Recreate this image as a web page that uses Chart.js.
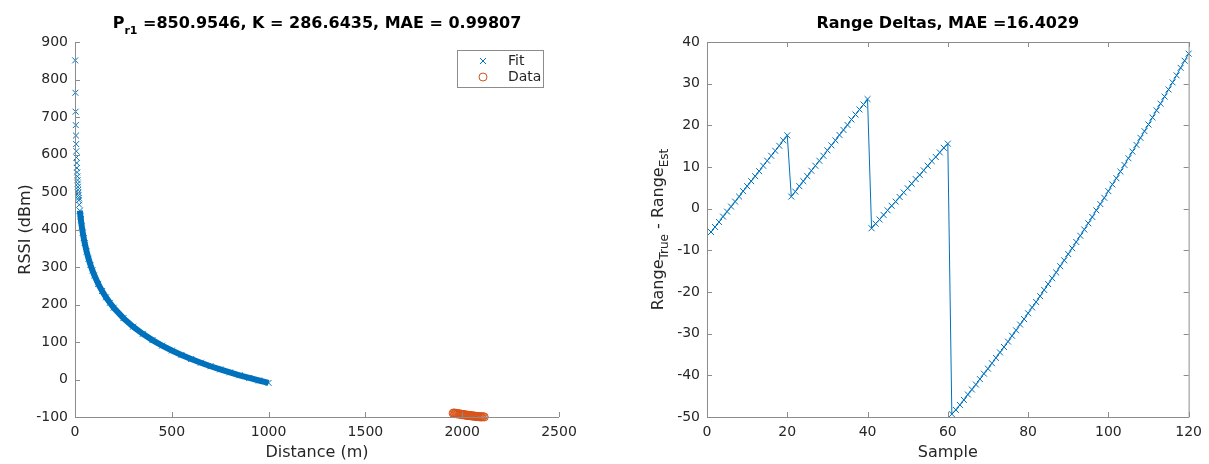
<!DOCTYPE html>
<html>
<head>
<meta charset="utf-8">
<script src="https://cdn.jsdelivr.net/npm/chart.js@4.4.1/dist/chart.umd.min.js"></script>
<style>
html, body { margin: 0; padding: 0; background: #fff; }
#wrap { position: relative; width: 1209px; height: 464px; }
.box { position: absolute; top: 0; height: 464px; }
#leftBox { left: 0; width: 604px; }
#rightBox { left: 604px; width: 605px; }
</style>
</head>
<body>
<div id="wrap">
  <div class="box" id="leftBox"><canvas id="fitChart"></canvas></div>
  <div class="box" id="rightBox"><canvas id="deltaChart"></canvas></div>
</div>
<script>
// ---- left panel: path loss fit ----
const fitDist = [1, 2, 3, 4, 5, 6, 7, 8, 9, 10, 11, 12, 13, 14, 15, 16, 17, 18, 19, 20, 22, 25, 28,
  30, 35, 40, 45, 50, 60, 70, 80, 90, 100, 120, 140, 160, 180, 200, 250, 300, 350, 400, 450, 500,
  550, 600, 650, 700, 750, 800, 850, 900, 950, 1000];
const fitRssi = [851.0, 764.7, 714.2, 678.4, 650.6, 627.9, 608.7, 592.1, 577.4, 564.3, 552.4,
  541.6, 531.6, 522.4, 513.8, 505.8, 498.2, 491.1, 484.4, 478.0, 466.1, 450.2, 436.1,
  427.5, 408.4, 391.7, 377.1, 364.0, 341.3, 322.1, 305.4, 290.8, 277.7, 255.0, 235.8,
  219.2, 204.5, 191.4, 163.6, 140.9, 121.7, 105.1, 90.4, 77.3, 65.5, 54.6, 44.7, 35.4,
  26.8, 18.8, 11.3, 4.1, -2.6, -9.0];

const dataDist = [1953, 1957, 1961, 1965, 1969, 1973, 1977, 1981, 1985, 1989, 1993, 1997,
  2001, 2005, 2009, 2013, 2017, 2021, 2025, 2029, 2033, 2037, 2041, 2045, 2049, 2053,
  2057, 2061, 2065, 2069, 2073, 2077, 2081, 2085, 2089, 2093, 2097, 2102, 2108, 2114];
const dataRssi = [-90, -89, -91, -90, -90, -92, -91, -91, -92, -93, -92, -93,
  -94, -93, -94, -95, -94, -95, -96, -95, -96, -96, -97, -96, -97, -97,
  -98, -97, -98, -98, -99, -98, -99, -99, -99, -100, -99, -100, -99, -100];

const leftXTicks = [0, 500, 1000, 1500, 2000, 2500];
const leftYTicks = [-100, 0, 100, 200, 300, 400, 500, 600, 700, 800, 900];

// ---- right panel: range deltas per sample ----
const deltaValues = [
  -5.6, -4.4, -3.2, -1.9, -0.7, 0.5, 1.7, 2.9, 4.2, 5.4, 6.6, 7.8, 9.0, 10.3, 11.5, 12.7, 13.9, 15.1, 16.4, 17.6,
  2.9, 4.1, 5.4, 6.6, 7.8, 9.1, 10.3, 11.5, 12.7, 14.0, 15.2, 16.4, 17.7, 18.9, 20.1, 21.4, 22.6, 23.8, 25.0, 26.3,
  -4.7, -3.6, -2.6, -1.5, -0.4, 0.7, 1.7, 2.8, 3.9, 4.9, 6.0, 7.1, 8.1, 9.2, 10.3, 11.4, 12.4, 13.5, 14.6, 15.6,
  -49.3, -48.3, -47.1, -45.9, -44.6, -43.4, -42.2, -40.9, -39.6, -38.4, -37.1, -35.8, -34.5, -33.2, -31.9,
  -30.5, -29.2, -27.8, -26.5, -25.1, -23.7, -22.4, -21.0, -19.5, -18.1, -16.7, -15.3, -13.8, -12.4, -10.9,
  -9.5, -8.0, -6.5, -5.0, -3.5, -2.0, -0.4, 1.1, 2.6, 4.2, 5.8, 7.3, 8.9, 10.5, 12.1,
  13.7, 15.3, 17.0, 18.6, 20.2, 21.9, 23.6, 25.2, 26.9, 28.6, 30.3, 32.0, 33.8, 35.5, 37.2];
const rightXTicks = [0, 20, 40, 60, 80, 100, 120];
const rightYTicks = [-50, -40, -30, -20, -10, 0, 10, 20, 30, 40];

const BLUE = '#0072BD';
const ORANGE = '#D95319';
const AXIS = '#8c8c8c';
const INK = '#262626';
const FONT = '"DejaVu Sans", sans-serif';

Chart.defaults.font.family = FONT;
Chart.defaults.font.size = 14;
Chart.defaults.color = INK;

// text with subscripts, centred on x
function drawRich(ctx, parts, x, y) {
  let total = 0;
  parts.forEach(p => { ctx.font = p.font; p.w = ctx.measureText(p.t).width; total += p.w; });
  let cx = x - total / 2;
  ctx.textAlign = 'left';
  ctx.textBaseline = 'alphabetic';
  parts.forEach(p => { ctx.font = p.font; ctx.fillText(p.t, cx, y + (p.dy || 0)); cx += p.w; });
}

// MATLAB style axes: gray lines, inward ticks, optional box
function axesPlugin(box) {
  return {
    id: 'matlabAxes',
    afterDatasetsDraw(chart) {
      const { ctx, chartArea: a, scales } = chart;
      const L = 5;
      ctx.save();
      ctx.strokeStyle = AXIS;
      ctx.lineWidth = 1;
      ctx.beginPath();
      ctx.moveTo(a.left + 0.5, a.top);
      ctx.lineTo(a.left + 0.5, a.bottom + 0.5);
      ctx.lineTo(a.right, a.bottom + 0.5);
      if (box) {
        ctx.moveTo(a.left, a.top + 0.5);
        ctx.lineTo(a.right + 0.5, a.top + 0.5);
        ctx.lineTo(a.right + 0.5, a.bottom + 0.5);
      }
      scales.x.ticks.forEach(t => {
        const px = Math.round(scales.x.getPixelForValue(t.value)) + 0.5;
        ctx.moveTo(px, a.bottom); ctx.lineTo(px, a.bottom - L);
        if (box) { ctx.moveTo(px, a.top); ctx.lineTo(px, a.top + L); }
      });
      scales.y.ticks.forEach(t => {
        const py = Math.round(scales.y.getPixelForValue(t.value)) + 0.5;
        ctx.moveTo(a.left, py); ctx.lineTo(a.left + L, py);
        if (box) { ctx.moveTo(a.right, py); ctx.lineTo(a.right - L, py); }
      });
      ctx.stroke();
      ctx.restore();
    }
  };
}

function fixedTicks(list) {
  return function (scale) {
    scale.ticks = list.map(v => ({ value: v }));
  };
}

function baseScales(xMin, xMax, xTicks, yMin, yMax, yTicks, yWidth, xHeight) {
  return {
    x: {
      type: 'linear', min: xMin, max: xMax,
      afterBuildTicks: fixedTicks(xTicks),
      afterFit(s) { s.height = xHeight; },
      grid: { display: false, drawTicks: false },
      border: { display: false },
      ticks: { padding: 7, maxRotation: 0, autoSkip: false, callback: v => String(v) }
    },
    y: {
      type: 'linear', min: yMin, max: yMax,
      afterBuildTicks: fixedTicks(yTicks),
      afterFit(s) { s.width = yWidth; },
      grid: { display: false, drawTicks: false },
      border: { display: false },
      ticks: { padding: 7, autoSkip: false, callback: v => String(v) }
    }
  };
}

const commonOpts = {
  responsive: true,
  maintainAspectRatio: false,
  animation: false,
  events: [],
  plugins: { legend: { display: false }, tooltip: { enabled: false }, title: { display: false } }
};

// ---------------- left chart ----------------
const fitPoints = fitDist.map((d, i) => ({ x: d, y: fitRssi[i] }));
const bandPoints = fitPoints.filter(p => p.x >= 25);
const dataPoints = dataDist.map((d, i) => ({ x: d, y: dataRssi[i] }));

const leftText = {
  id: 'leftText',
  afterDraw(chart) {
    const { ctx, chartArea: a } = chart;
    ctx.save();
    ctx.fillStyle = '#000';
    const cx = (a.left + a.right) / 2;
    drawRich(ctx, [
      { t: 'P', font: 'bold 16px ' + FONT },
      { t: 'r1', font: 'bold 11px ' + FONT, dy: 6 },
      { t: ' =850.9546, K = 286.6435, MAE = 0.99807', font: 'bold 16px ' + FONT }
    ], cx, 28);
    ctx.fillStyle = INK;
    drawRich(ctx, [{ t: 'Distance (m)', font: '16px ' + FONT }], cx, 457);
    ctx.save();
    ctx.translate(30, (a.top + a.bottom) / 2);
    ctx.rotate(-Math.PI / 2);
    drawRich(ctx, [{ t: 'RSSI (dBm)', font: '16px ' + FONT }], 0, 0);
    ctx.restore();

    // legend
    const lx = 457, ly = 50, lw = 86, lh = 37;
    ctx.fillStyle = '#fff';
    ctx.fillRect(lx, ly, lw, lh);
    ctx.strokeStyle = AXIS;
    ctx.lineWidth = 1;
    ctx.strokeRect(lx + 0.5, ly + 0.5, lw, lh);
    const mx = 483, y1 = 61, y2 = 77;
    ctx.strokeStyle = BLUE;
    ctx.beginPath();
    ctx.moveTo(mx - 3, y1 - 3); ctx.lineTo(mx + 3, y1 + 3);
    ctx.moveTo(mx + 3, y1 - 3); ctx.lineTo(mx - 3, y1 + 3);
    ctx.stroke();
    ctx.strokeStyle = ORANGE;
    ctx.beginPath();
    ctx.arc(mx, y2, 4, 0, Math.PI * 2);
    ctx.stroke();
    ctx.fillStyle = INK;
    ctx.font = '14px ' + FONT;
    ctx.textAlign = 'left';
    ctx.textBaseline = 'middle';
    ctx.fillText('Fit', 508, y1);
    ctx.fillText('Data', 508, y2);
    ctx.restore();
  }
};

new Chart(document.getElementById('fitChart'), {
  type: 'scatter',
  data: {
    datasets: [
      { data: bandPoints, showLine: true, borderColor: BLUE, borderWidth: 6, pointRadius: 0, clip: false },
      { data: fitPoints, showLine: false, pointStyle: 'crossRot', pointRadius: 4.2, borderColor: BLUE, borderWidth: 1, clip: false },
      { data: dataPoints, showLine: false, pointStyle: 'circle', pointRadius: 4, borderColor: ORANGE, backgroundColor: 'rgba(0,0,0,0)', borderWidth: 1, clip: false }
    ]
  },
  options: Object.assign({}, commonOpts, {
    layout: { padding: { top: 42, right: 45, left: 0, bottom: 0 } },
    scales: baseScales(0, 2500, leftXTicks, -100, 900, leftYTicks, 75, 47)
  }),
  plugins: [axesPlugin(false), leftText]
});

// ---------------- right chart ----------------
const deltaPoints = deltaValues.map((v, i) => ({ x: i + 1, y: v }));

const rightText = {
  id: 'rightText',
  afterDraw(chart) {
    const { ctx, chartArea: a } = chart;
    ctx.save();
    ctx.fillStyle = '#000';
    const cx = (a.left + a.right) / 2;
    drawRich(ctx, [{ t: 'Range Deltas, MAE =16.4029', font: 'bold 16px ' + FONT }], cx, 28);
    ctx.fillStyle = INK;
    drawRich(ctx, [{ t: 'Sample', font: '16px ' + FONT }], cx, 457);
    ctx.translate(59, (a.top + a.bottom) / 2);
    ctx.rotate(-Math.PI / 2);
    drawRich(ctx, [
      { t: 'Range', font: '16px ' + FONT },
      { t: 'True', font: '12px ' + FONT, dy: 5 },
      { t: ' - Range', font: '16px ' + FONT },
      { t: 'Est', font: '12px ' + FONT, dy: 5 }
    ], 0, 0);
    ctx.restore();
  }
};

new Chart(document.getElementById('deltaChart'), {
  type: 'scatter',
  data: {
    datasets: [
      { data: deltaPoints, showLine: true, borderColor: BLUE, borderWidth: 1, pointStyle: 'crossRot', pointRadius: 4.2, pointBorderColor: BLUE, pointBorderWidth: 1, clip: false }
    ]
  },
  options: Object.assign({}, commonOpts, {
    layout: { padding: { top: 42, right: 17, left: 0, bottom: 0 } },
    scales: baseScales(0, 120, rightXTicks, -50, 40, rightYTicks, 103, 47)
  }),
  plugins: [axesPlugin(true), rightText]
});
</script>
</body>
</html>
